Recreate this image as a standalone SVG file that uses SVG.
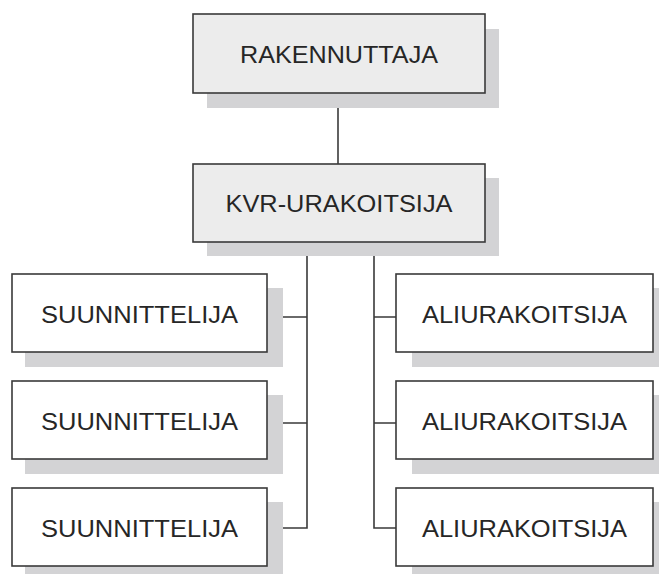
<svg xmlns="http://www.w3.org/2000/svg" width="659" height="574" viewBox="0 0 659 574">
<style>
.sh{fill:#d3d3d5;}
.bx{stroke:#3a3a3a;stroke-width:1.6;}
.g{fill:#ececec;}
.w{fill:#ffffff;}
.t{font-family:"Liberation Sans",Arial,sans-serif;font-size:23px;fill:#262626;text-anchor:middle;}
.c{fill:none;stroke:#3a3a3a;stroke-width:1.6;}
</style>
<rect width="659" height="574" fill="#ffffff"/>
<g id="connectors">
<path class="c" d="M338 93V164"/>
<path class="c" d="M307 242V528H267M267 317H307M267 423H307"/>
<path class="c" d="M374 242V528H396M396 317H374M396 423H374"/>
</g>
<g id="rakennuttaja">
<rect class="sh" x="207" y="29" width="292" height="79"/>
<rect class="bx g" x="193" y="14" width="292" height="79"/>
<text class="t" x="339" y="63" textLength="198" lengthAdjust="spacingAndGlyphs">RAKENNUTTAJA</text>
</g>
<g id="kvr">
<rect class="sh" x="207" y="178" width="292" height="78"/>
<rect class="bx g" x="193" y="164" width="292" height="78"/>
<text class="t" x="339" y="212" textLength="227" lengthAdjust="spacingAndGlyphs">KVR-URAKOITSIJA</text>
</g>
<g id="suunnittelija1">
<rect class="sh" x="25" y="288" width="258" height="79"/>
<rect class="bx w" x="12" y="274" width="255" height="78"/>
<text class="t" x="139.5" y="323" textLength="197" lengthAdjust="spacingAndGlyphs">SUUNNITTELIJA</text>
</g>
<g id="suunnittelija2">
<rect class="sh" x="25" y="395" width="258" height="79"/>
<rect class="bx w" x="12" y="381" width="255" height="78"/>
<text class="t" x="139.5" y="430" textLength="197" lengthAdjust="spacingAndGlyphs">SUUNNITTELIJA</text>
</g>
<g id="suunnittelija3">
<rect class="sh" x="25" y="502" width="258" height="79"/>
<rect class="bx w" x="12" y="488" width="255" height="78"/>
<text class="t" x="139.5" y="537" textLength="197" lengthAdjust="spacingAndGlyphs">SUUNNITTELIJA</text>
</g>
<g id="aliurakoitsija1">
<rect class="sh" x="412" y="288" width="258" height="79"/>
<rect class="bx w" x="396" y="274" width="257" height="78"/>
<text class="t" x="524.5" y="323" textLength="205" lengthAdjust="spacingAndGlyphs">ALIURAKOITSIJA</text>
</g>
<g id="aliurakoitsija2">
<rect class="sh" x="412" y="395" width="258" height="79"/>
<rect class="bx w" x="396" y="381" width="257" height="78"/>
<text class="t" x="524.5" y="430" textLength="205" lengthAdjust="spacingAndGlyphs">ALIURAKOITSIJA</text>
</g>
<g id="aliurakoitsija3">
<rect class="sh" x="412" y="502" width="258" height="79"/>
<rect class="bx w" x="396" y="488" width="257" height="78"/>
<text class="t" x="524.5" y="537" textLength="205" lengthAdjust="spacingAndGlyphs">ALIURAKOITSIJA</text>
</g>
</svg>
